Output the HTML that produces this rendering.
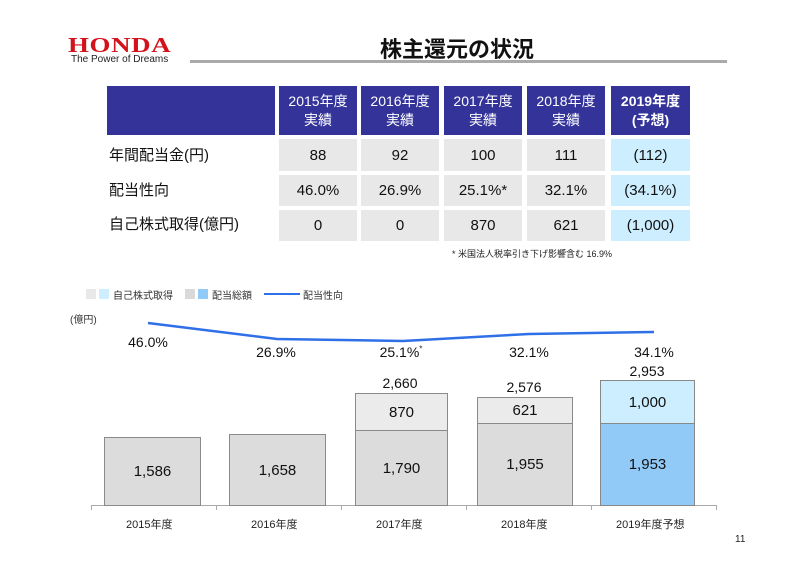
<!DOCTYPE html>
<html><head><meta charset="utf-8"><style>
body{margin:0;width:800px;height:566px;background:#fff;position:relative;overflow:hidden;font-family:"Liberation Sans","Noto Sans CJK JP",sans-serif;}
.a{position:absolute;}
.c{position:absolute;display:flex;align-items:center;justify-content:center;text-align:center;}
.h{background:#333399;color:#fff;font-size:14px;line-height:19px;}
.g{background:#e8e8e8;color:#111;font-size:15px;}
.b{background:#cdeeff;color:#111;font-size:15px;}
.l{position:absolute;font-size:15px;color:#111;}
.bar{position:absolute;box-sizing:border-box;border:1.5px solid #8a8a8a;display:flex;align-items:center;justify-content:center;font-size:15px;color:#111;}
.v{position:absolute;font-size:14px;color:#111;text-align:center;width:80px;}
</style></head><body>
<div class="a" style="left:68px;top:33px;font-family:'Liberation Serif',serif;font-weight:bold;color:#d4121c;font-size:21px;letter-spacing:0.5px;transform:scaleX(1.28);transform-origin:left;">HONDA</div>
<div class="a" style="left:71px;top:54px;font-size:10px;color:#222;">The Power of Dreams</div>
<div class="a" style="left:380px;top:32px;font-size:22px;font-weight:bold;color:#111;">株主還元の状況</div>
<div class="a" style="left:190px;top:60px;width:537px;height:3px;background:#aaa;"></div>

<div class="c h" style="left:107px;top:86px;width:168px;height:49px;"></div>
<div class="c h" style="left:279px;top:86px;width:78px;height:49px;">2015年度<br>実績</div>
<div class="c h" style="left:361px;top:86px;width:78px;height:49px;">2016年度<br>実績</div>
<div class="c h" style="left:444px;top:86px;width:78px;height:49px;">2017年度<br>実績</div>
<div class="c h" style="left:527px;top:86px;width:78px;height:49px;">2018年度<br>実績</div>
<div class="c h" style="left:611px;top:86px;width:79px;height:49px;font-weight:bold;">2019年度<br>(予想)</div>

<div class="l" style="left:109px;top:144px;">年間配当金(円)</div>
<div class="l" style="left:109px;top:179px;">配当性向</div>
<div class="l" style="left:109px;top:213px;">自己株式取得(億円)</div>

<div class="c g" style="left:279px;top:139px;width:78px;height:32px;">88</div>
<div class="c g" style="left:361px;top:139px;width:78px;height:32px;">92</div>
<div class="c g" style="left:444px;top:139px;width:78px;height:32px;">100</div>
<div class="c g" style="left:527px;top:139px;width:78px;height:32px;">111</div>
<div class="c b" style="left:611px;top:139px;width:79px;height:32px;">(112)</div>
<div class="c g" style="left:279px;top:175px;width:78px;height:31px;">46.0%</div>
<div class="c g" style="left:361px;top:175px;width:78px;height:31px;">26.9%</div>
<div class="c g" style="left:444px;top:175px;width:78px;height:31px;">25.1%*</div>
<div class="c g" style="left:527px;top:175px;width:78px;height:31px;">32.1%</div>
<div class="c b" style="left:611px;top:175px;width:79px;height:31px;">(34.1%)</div>
<div class="c g" style="left:279px;top:210px;width:78px;height:31px;">0</div>
<div class="c g" style="left:361px;top:210px;width:78px;height:31px;">0</div>
<div class="c g" style="left:444px;top:210px;width:78px;height:31px;">870</div>
<div class="c g" style="left:527px;top:210px;width:78px;height:31px;">621</div>
<div class="c b" style="left:611px;top:210px;width:79px;height:31px;">(1,000)</div>
<div class="a" style="left:452px;top:247px;font-size:9px;color:#222;">* 米国法人税率引き下げ影響含む 16.9%</div>

<div class="a" style="left:86px;top:289px;width:10px;height:10px;background:#e8e8e8;"></div>
<div class="a" style="left:99px;top:289px;width:10px;height:10px;background:#cdeeff;"></div>
<div class="a" style="left:113px;top:287px;font-size:10px;color:#333;">自己株式取得</div>
<div class="a" style="left:185px;top:289px;width:10px;height:10px;background:#d9d9d9;"></div>
<div class="a" style="left:198px;top:289px;width:10px;height:10px;background:#92caf7;"></div>
<div class="a" style="left:212px;top:287px;font-size:10px;color:#333;">配当総額</div>
<div class="a" style="left:264px;top:293px;width:36px;height:2px;background:#2f6fe8;"></div>
<div class="a" style="left:303px;top:287px;font-size:10px;color:#333;">配当性向</div>
<div class="a" style="left:70px;top:311px;font-size:10px;color:#333;">(億円)</div>

<svg class="a" style="left:0;top:0" width="800" height="566">
<polyline points="148,323 277,339 403,341 529,334 654,332" fill="none" stroke="#2f6fe8" stroke-width="2.5"/>
<line x1="91" y1="505.5" x2="717" y2="505.5" stroke="#aaa"/>
<g stroke="#aaa"><line x1="91.5" y1="505" x2="91.5" y2="510"/><line x1="216.5" y1="505" x2="216.5" y2="510"/><line x1="341.5" y1="505" x2="341.5" y2="510"/><line x1="466.5" y1="505" x2="466.5" y2="510"/><line x1="591.5" y1="505" x2="591.5" y2="510"/><line x1="716.5" y1="505" x2="716.5" y2="510"/></g>
</svg>

<div class="v" style="left:108px;top:334px;">46.0%</div>
<div class="v" style="left:236px;top:344px;">26.9%</div>
<div class="v" style="left:361px;top:344px;">25.1%<sup style="font-size:8px">*</sup></div>
<div class="v" style="left:489px;top:344px;">32.1%</div>
<div class="v" style="left:614px;top:344px;">34.1%</div>

<div class="bar" style="left:104px;top:437px;width:97px;height:69px;background:#dcdcdc;">1,586</div>
<div class="bar" style="left:229px;top:434px;width:97px;height:72px;background:#dcdcdc;">1,658</div>
<div class="bar" style="left:355px;top:430px;width:93px;height:76px;background:#dcdcdc;">1,790</div>
<div class="bar" style="left:355px;top:393px;width:93px;height:38px;background:#ebebeb;">870</div>
<div class="bar" style="left:477px;top:423px;width:96px;height:83px;background:#dcdcdc;">1,955</div>
<div class="bar" style="left:477px;top:397px;width:96px;height:27px;background:#ebebeb;">621</div>
<div class="bar" style="left:600px;top:423px;width:95px;height:83px;background:#92caf7;border-color:#888;">1,953</div>
<div class="bar" style="left:600px;top:380px;width:95px;height:44px;background:#cdeeff;border-color:#888;">1,000</div>
<div class="v" style="left:360px;top:375px;">2,660</div>
<div class="v" style="left:484px;top:379px;">2,576</div>
<div class="v" style="left:607px;top:363px;">2,953</div>

<div class="a" style="left:126px;top:516px;font-size:11px;color:#222;">2015年度</div>
<div class="a" style="left:251px;top:516px;font-size:11px;color:#222;">2016年度</div>
<div class="a" style="left:376px;top:516px;font-size:11px;color:#222;">2017年度</div>
<div class="a" style="left:501px;top:516px;font-size:11px;color:#222;">2018年度</div>
<div class="a" style="left:616px;top:516px;font-size:11px;color:#222;">2019年度予想</div>
<div class="a" style="left:735px;top:534px;font-size:10px;color:#222;">11</div>
</body></html>
